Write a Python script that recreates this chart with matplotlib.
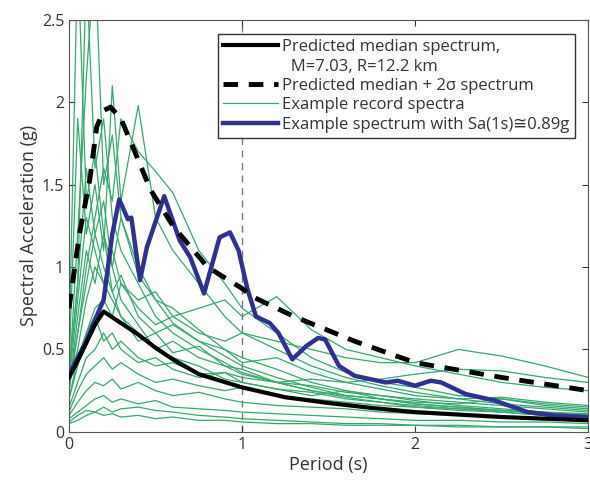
import numpy as np
import matplotlib
matplotlib.use("Agg")
import matplotlib.pyplot as plt
from matplotlib.lines import Line2D

plt.rcParams['font.family'] = ['Open Sans', 'DejaVu Sans']

# period grid shared by the example records
periods = [0, 0.05, 0.1, 0.15, 0.2, 0.25, 0.3, 0.4, 0.5, 0.6, 0.75, 0.9,
           1.0, 1.2, 1.4, 1.6, 1.8, 2.0, 2.25, 2.5, 2.75, 3.0]

records = [
    [0.35, 0.9, 2.8, 1.6, 1.9, 1.3, 1.1, 0.9, 0.7, 0.6, 0.5, 0.42, 0.36, 0.3, 0.25, 0.21, 0.18, 0.16, 0.14, 0.12, 0.1, 0.09],
    [0.3, 1.2, 2.15, 2.9, 1.5, 1.8, 1.3, 1.0, 0.8, 0.66, 0.55, 0.46, 0.4, 0.33, 0.27, 0.22, 0.2, 0.17, 0.15, 0.13, 0.11, 0.1],
    [0.4, 1.9, 1.2, 1.5, 1.1, 2.1, 1.4, 1.98, 1.3, 1.1, 0.9, 0.7, 0.6, 0.5, 0.4, 0.33, 0.28, 0.24, 0.2, 0.17, 0.15, 0.13],
    [0.28, 0.6, 1.0, 1.3, 1.6, 1.4, 1.9, 1.7, 1.58, 1.45, 1.1, 0.9, 0.75, 0.6, 0.45, 0.36, 0.3, 0.27, 0.22, 0.2, 0.17, 0.15],
    [0.5, 2.9, 1.4, 1.7, 1.2, 1.0, 1.3, 0.95, 0.8, 0.75, 0.62, 0.5, 0.45, 0.38, 0.3, 0.25, 0.22, 0.19, 0.16, 0.14, 0.12, 0.1],
    [0.3, 0.5, 0.8, 1.0, 0.9, 1.1, 0.9, 0.8, 0.85, 0.7, 0.75, 0.8, 0.7, 0.82, 0.62, 0.5, 0.45, 0.4, 0.35, 0.3, 0.27, 0.25],
    [0.2, 0.4, 0.6, 0.75, 0.8, 0.7, 0.9, 0.75, 0.65, 0.7, 0.6, 0.55, 0.6, 0.55, 0.5, 0.45, 0.42, 0.42, 0.5, 0.46, 0.4, 0.33],
    [0.15, 0.3, 0.45, 0.5, 0.6, 0.5, 0.55, 0.45, 0.4, 0.42, 0.35, 0.36, 0.33, 0.3, 0.32, 0.3, 0.32, 0.35, 0.38, 0.37, 0.33, 0.3],
    [0.25, 0.7, 1.1, 0.9, 1.2, 0.85, 0.95, 0.7, 0.6, 0.65, 0.55, 0.5, 0.42, 0.45, 0.36, 0.3, 0.26, 0.22, 0.2, 0.21, 0.18, 0.16],
    [0.3, 0.8, 1.3, 1.1, 0.9, 0.8, 0.7, 0.55, 0.6, 0.48, 0.52, 0.4, 0.35, 0.3, 0.25, 0.22, 0.2, 0.17, 0.15, 0.13, 0.11, 0.1],
    [0.2, 0.45, 0.6, 0.7, 0.55, 0.6, 0.5, 0.42, 0.45, 0.38, 0.33, 0.36, 0.3, 0.26, 0.22, 0.25, 0.2, 0.18, 0.17, 0.2, 0.16, 0.14],
    [0.12, 0.25, 0.35, 0.4, 0.45, 0.38, 0.42, 0.35, 0.3, 0.32, 0.28, 0.25, 0.27, 0.22, 0.2, 0.18, 0.16, 0.15, 0.14, 0.13, 0.12, 0.11],
    [0.1, 0.18, 0.25, 0.3, 0.28, 0.32, 0.26, 0.3, 0.25, 0.22, 0.24, 0.2, 0.18, 0.16, 0.15, 0.14, 0.12, 0.11, 0.1, 0.09, 0.08, 0.08],
    [0.08, 0.12, 0.16, 0.2, 0.22, 0.18, 0.2, 0.17, 0.19, 0.15, 0.14, 0.13, 0.12, 0.11, 0.1, 0.09, 0.08, 0.07, 0.07, 0.06, 0.06, 0.05],
    [0.05, 0.07, 0.1, 0.12, 0.15, 0.12, 0.14, 0.15, 0.13, 0.12, 0.1, 0.09, 0.08, 0.07, 0.06, 0.05, 0.05, 0.04, 0.04, 0.03, 0.03, 0.03],
    [0.06, 0.1, 0.13, 0.12, 0.1, 0.11, 0.09, 0.1, 0.08, 0.09, 0.07, 0.07, 0.06, 0.05, 0.05, 0.04, 0.04, 0.04, 0.03, 0.03, 0.03, 0.02],
    [0.35, 0.9, 1.6, 1.2, 1.4, 1.0, 0.8, 0.65, 0.5, 0.45, 0.4, 0.32, 0.3, 0.26, 0.24, 0.2, 0.18, 0.15, 0.13, 0.12, 0.1, 0.09],
    [0.25, 0.6, 0.9, 1.2, 1.0, 0.85, 0.7, 0.6, 0.5, 0.55, 0.45, 0.4, 0.38, 0.3, 0.28, 0.24, 0.22, 0.2, 0.18, 0.16, 0.14, 0.12],
]

med_T = [0, 0.05, 0.1, 0.15, 0.2, 0.3, 0.4, 0.5, 0.6, 0.75, 1.0, 1.25, 1.5, 1.75, 2.0, 2.5, 3.0]
med_sa = [0.33, 0.43, 0.54, 0.65, 0.73, 0.66, 0.59, 0.51, 0.44, 0.35, 0.27, 0.21, 0.175, 0.145, 0.12, 0.09, 0.07]

sig_T = [0, 0.06, 0.12, 0.16, 0.2, 0.24, 0.3, 0.4, 0.47, 0.6, 0.68, 0.8, 1.0, 1.06, 1.3, 1.65, 2.0, 2.5, 3.0]
sig_sa = [0.75, 1.2, 1.53, 1.85, 1.95, 1.97, 1.9, 1.65, 1.47, 1.25, 1.15, 1.0, 0.87, 0.82, 0.70, 0.55, 0.42, 0.33, 0.25]

ex_T = [0, 0.05, 0.1, 0.15, 0.2, 0.25, 0.29, 0.34, 0.36, 0.41, 0.45, 0.55, 0.64, 0.70, 0.78,
        0.87, 0.93, 0.98, 1.03, 1.08, 1.16, 1.21, 1.29, 1.37, 1.44, 1.48, 1.56, 1.65,
        1.83, 1.9, 2.0, 2.09, 2.15, 2.29, 2.46, 2.65, 2.8, 3.0]
ex_sa = [0.35, 0.45, 0.55, 0.68, 0.8, 1.2, 1.41, 1.29, 1.30, 0.92, 1.12, 1.43, 1.16, 1.06, 0.84,
         1.18, 1.21, 1.10, 0.87, 0.70, 0.66, 0.60, 0.44, 0.52, 0.57, 0.56, 0.40, 0.34,
         0.30, 0.31, 0.28, 0.31, 0.30, 0.23, 0.19, 0.12, 0.10, 0.09]

green = '#35aa6c'
blue = '#2e3192'

fig = plt.figure(figsize=(5.9, 4.82), dpi=100)
ax = fig.add_axes([0.117, 0.104, 0.88, 0.855])

ax.axvline(1.0, color='#777777', ls=(0, (5, 4)), lw=1.0, zorder=1)

for rec in records:
    ax.plot(periods, rec, color=green, lw=0.9, zorder=2)
ax.plot(med_T, med_sa, color='black', lw=3, zorder=4)
ax.plot(sig_T, sig_sa, color='black', lw=3.5, ls=(0, (3, 2.2)), zorder=4)
ax.plot(ex_T, ex_sa, color=blue, lw=3.2, zorder=3)

ax.set_xlim(0, 3)
ax.set_ylim(0, 2.5)
ax.set_xticks([0, 1, 2, 3])
ax.set_yticks([0, 0.5, 1, 1.5, 2, 2.5])
ax.set_yticklabels(['0', '0.5', '1', '1.5', '2', '2.5'])
ax.tick_params(direction='in', top=True, right=True, labelsize=11.5, colors='#333333', length=4)
for s in ax.spines.values():
    s.set_color('#555555')
ax.set_xlabel('Period (s)', fontsize=13, color='#333333', labelpad=2)
ax.set_ylabel('Spectral Acceleration (g)', fontsize=13, color='#333333', labelpad=3)

handles = [
    Line2D([], [], color='black', lw=3),
    Line2D([], [], color='none'),
    Line2D([], [], color='black', lw=3.5, ls=(0, (3, 2.2))),
    Line2D([], [], color=green, lw=0.9),
    Line2D([], [], color=blue, lw=3.2),
]
labels = [
    'Predicted median spectrum,',
    '  M=7.03, R=12.2 km',
    'Predicted median + 2σ spectrum',
    'Example record spectra',
    'Example spectrum with Sa(1s)≅0.89g',
]
leg = ax.legend(handles, labels, loc='upper right', bbox_to_anchor=(0.99, 0.985),
                fontsize=12, handlelength=3.3, handletextpad=0.25, labelspacing=0.2,
                borderpad=0.3, fancybox=False, framealpha=1, edgecolor='#333333')
leg.get_frame().set_linewidth(1.0)
for t in leg.get_texts():
    t.set_color('#333333')

fig.savefig('out.png', dpi=100)
